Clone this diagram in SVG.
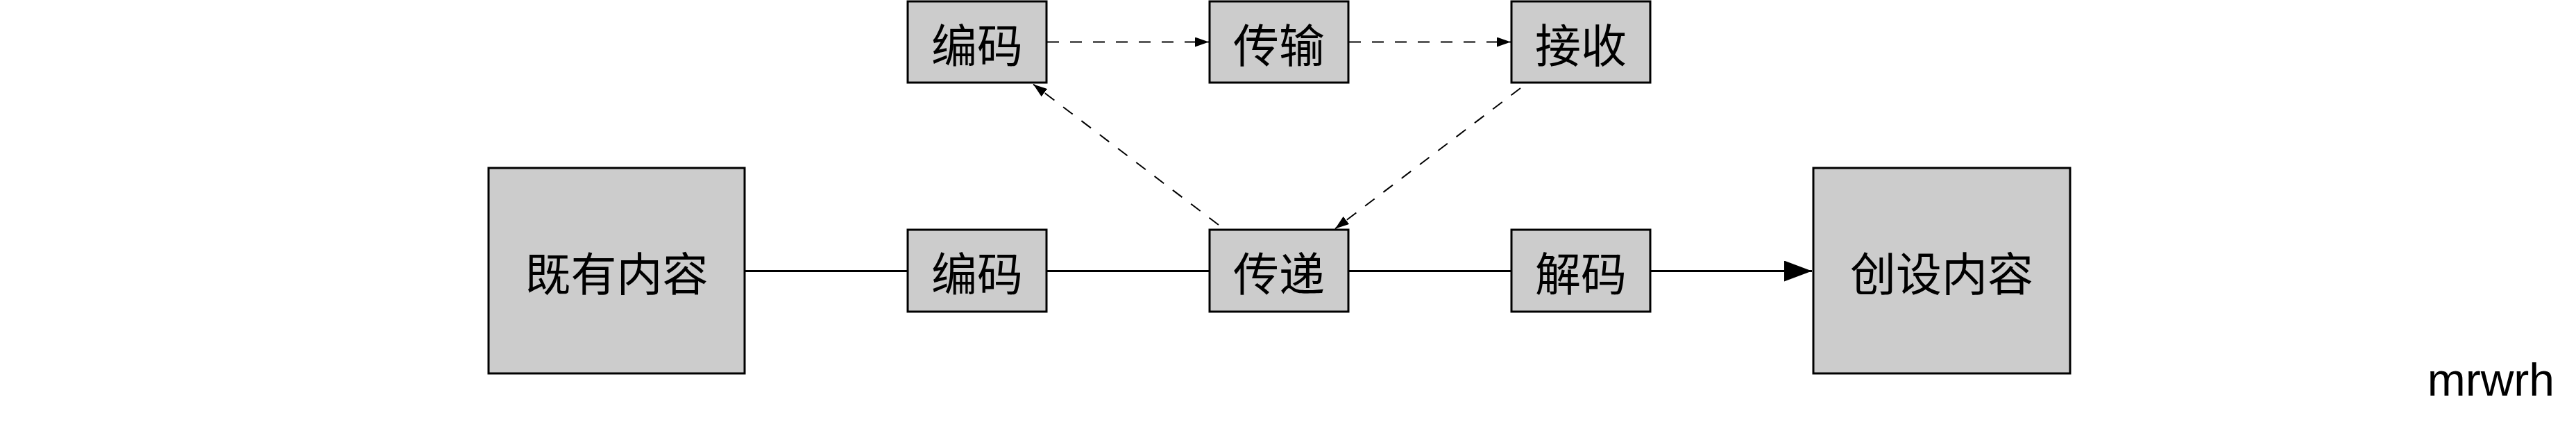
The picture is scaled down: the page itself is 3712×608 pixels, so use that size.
<svg xmlns="http://www.w3.org/2000/svg" width="3712" height="608" viewBox="0 0 3712 608">
<style>
.box{fill:#cccccc;stroke:#000;stroke-width:3}
.lbl{font-family:"Noto Sans CJK SC","Noto Sans",sans-serif;font-size:66px;fill:#000;text-anchor:middle;dominant-baseline:central}
.solid{stroke:#000;stroke-width:3;fill:none}
.dash{stroke:#000;stroke-width:2;fill:none;stroke-dasharray:17,16}
</style>
<defs>
<marker id="big" markerUnits="userSpaceOnUse" markerWidth="40" markerHeight="30" refX="40" refY="15" orient="auto"><path d="M0,0 L40,15 L0,30 z" fill="#000"/></marker>
<marker id="small" markerUnits="userSpaceOnUse" markerWidth="20" markerHeight="14" refX="20" refY="7" orient="auto"><path d="M0,0 L20,7 L0,14 z" fill="#000"/></marker>
</defs>
<rect width="3712" height="608" fill="#fff"/>
<g id="connectors">
<line class="solid" x1="1073" y1="390.5" x2="1308" y2="390.5"/>
<line class="solid" x1="1508" y1="390.5" x2="1743" y2="390.5"/>
<line class="solid" x1="1943" y1="390.5" x2="2178" y2="390.5"/>
<line class="solid" x1="2378" y1="390.5" x2="2611" y2="390.5" marker-end="url(#big)"/>
<line class="dash" x1="1509" y1="60.5" x2="1742" y2="60.5" marker-end="url(#small)"/>
<line class="dash" x1="1944" y1="60.5" x2="2177" y2="60.5" marker-end="url(#small)"/>
<line class="dash" x1="1756" y1="324" x2="1489" y2="121.5" marker-end="url(#small)"/>
<line class="dash" x1="2191" y1="127" x2="1924" y2="329.5" marker-end="url(#small)"/>
</g>
<g id="n-existing"><rect class="box" x="704" y="242" width="369" height="296"/><text class="lbl" x="888.5" y="390">既有内容</text></g>
<g id="n-encode"><rect class="box" x="1308" y="331" width="200" height="118"/><text class="lbl" x="1408" y="390">编码</text></g>
<g id="n-deliver"><rect class="box" x="1743" y="331" width="200" height="118"/><text class="lbl" x="1843" y="390">传递</text></g>
<g id="n-decode"><rect class="box" x="2178" y="331" width="200" height="118"/><text class="lbl" x="2278" y="390">解码</text></g>
<g id="n-created"><rect class="box" x="2613" y="242" width="370" height="296"/><text class="lbl" x="2798" y="390">创设内容</text></g>
<g id="n-encode2"><rect class="box" x="1308" y="2" width="200" height="117"/><text class="lbl" x="1408" y="60.5">编码</text></g>
<g id="n-transmit"><rect class="box" x="1743" y="2" width="200" height="117"/><text class="lbl" x="1843" y="60.5">传输</text></g>
<g id="n-receive"><rect class="box" x="2178" y="2" width="200" height="117"/><text class="lbl" x="2278" y="60.5">接收</text></g>
<text x="3681" y="570" font-family="Liberation Sans, Arial, sans-serif" font-size="66" text-anchor="end" fill="#000">mrwrh</text>
</svg>
